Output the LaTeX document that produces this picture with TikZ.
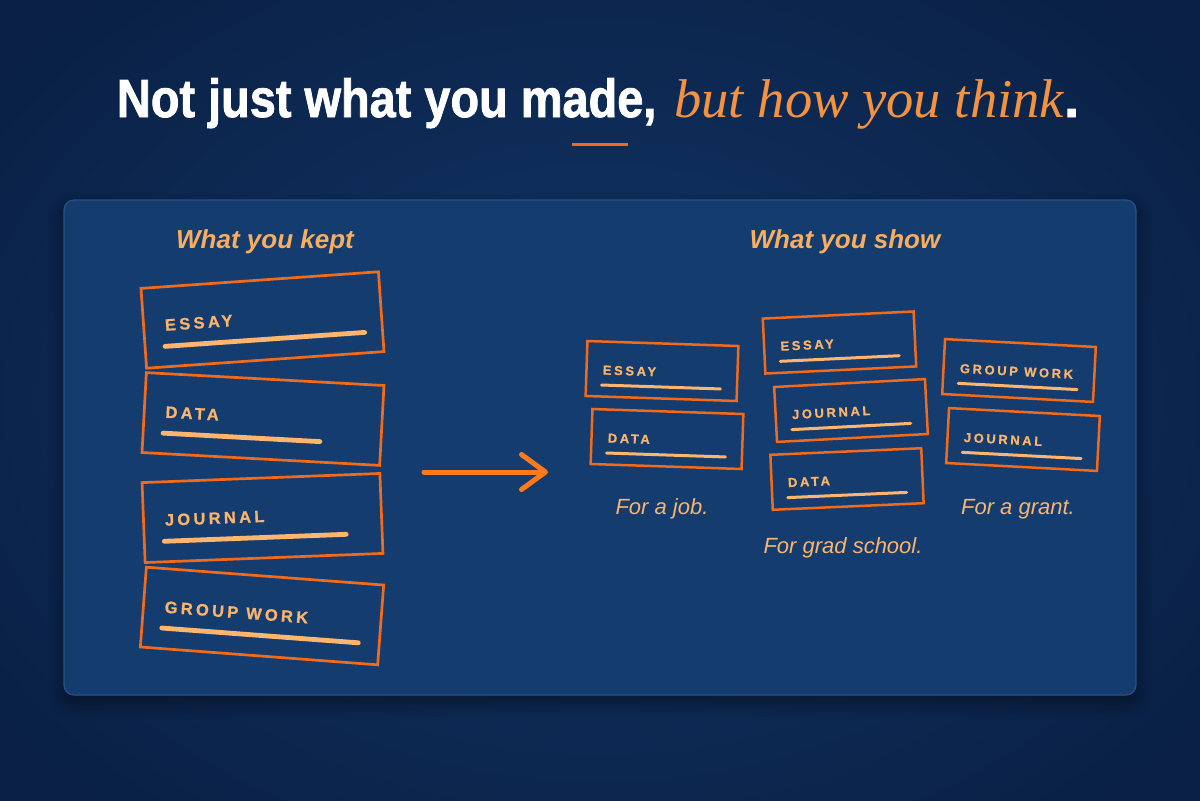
\documentclass[tikz,border=0pt]{standalone}
\usepackage{fontspec}
\usepackage{graphicx}
\usetikzlibrary{arrows.meta,shadows.blur}
\setmainfont{Liberation Sans}
\newfontfamily\titlefont{Liberation Sans}[BoldFeatures={FakeBold=1.6}]
\newfontfamily\serifit{Liberation Serif}
\newfontfamily\cardfont{Liberation Sans}[LetterSpace=20,BoldFeatures={FakeBold=0.7}]
\definecolor{bgin}{HTML}{113667}
\definecolor{bgout}{HTML}{0A2045}
\definecolor{panelfill}{HTML}{153C6F}
\definecolor{panelline}{HTML}{2A5187}
\definecolor{cardorange}{HTML}{F26B1A}
\definecolor{lighttxt}{HTML}{FBB46C}
\definecolor{lineorange}{HTML}{FEB56D}
\definecolor{headorange}{HTML}{F8AE5E}
\definecolor{titleorange}{HTML}{F4923F}
\definecolor{arroworange}{HTML}{FF7A1C}
\tikzset{
  bigcard/.style={draw=cardorange, line width=1.35pt, minimum width=119pt, minimum height=40pt, inner sep=0pt, outer sep=0pt},
  smallcard/.style={draw=cardorange, line width=1.25pt, minimum width=75.5pt, minimum height=27.5pt, inner sep=0pt, outer sep=0pt},
  bigtxt/.style={text=lighttxt, font=\cardfont\bfseries\fontsize{8.25pt}{10pt}\selectfont, inner sep=0pt, anchor=base west},
  smalltxt/.style={text=lighttxt, font=\cardfont\bfseries\fontsize{6.5pt}{8pt}\selectfont, inner sep=0pt, anchor=base west},
  bigline/.style={draw=lineorange, line width=2.4pt, line cap=round},
  smallline/.style={draw=lineorange, line width=1.5pt, line cap=round},
  header/.style={text=headorange, font=\bfseries\itshape\fontsize{13pt}{15pt}\selectfont, inner sep=0pt, anchor=base},
  caption/.style={text=lighttxt, font=\itshape\fontsize{11pt}{13pt}\selectfont, inner sep=0pt, anchor=base},
  bigarrow/.style={draw=arroworange, line width=2.5pt, line cap=round, -{Straight Barb[length=12pt,width=17.5pt,round]}},
}
% big card: name, cx, cy, angle, text, line length
\newcommand{\bigcardat}[6]{%
  \begin{scope}[shift={(#2,#3)}, rotate=#4, transform shape]
    \node[bigcard] (#1) at (0,0) {};
    \node[bigtxt] (#1-t) at (-98,4) {#5};
    \draw[bigline] (-99,19.5) -- (-99+#6,19.5);
  \end{scope}}
\newcommand{\smallcardat}[5]{%
  \begin{scope}[shift={(#2,#3)}, rotate=#4, transform shape]
    \node[smallcard] (#1) at (0,0) {};
    \node[smalltxt] (#1-t) at (-59.5,5.5) {#5};
    \draw[smallline] (-60,16) -- (59,16);
  \end{scope}}
\begin{document}
\begin{tikzpicture}[x=0.5pt,y=-0.5pt]
  \useasboundingbox (0,0) rectangle (1200,800);
  \shade[inner color=bgin, outer color=bgout] (-150,-150) rectangle (1350,950);
  % panel
  \node[draw=panelline, line width=0.6pt, fill=panelfill, rounded corners=5pt,
        minimum width=536pt, minimum height=247.5pt, inner sep=0pt,
        blur shadow={shadow blur steps=12, shadow xshift=0pt, shadow yshift=-4pt, shadow opacity=45, shadow blur radius=8pt}]
        (panel) at (600,447.5) {};
  % title
  \node[inner sep=0pt, anchor=base] (title) at (598,117) {%
    \scalebox{0.875}[1]{\titlefont\bfseries\fontsize{26.8pt}{30pt}\selectfont\color{white}Not just what you made,}%
    \hspace{9pt}%
    {\serifit\itshape\fontsize{27.3pt}{30pt}\selectfont\color{titleorange}but how you think}%
    {\titlefont\bfseries\fontsize{26.8pt}{30pt}\selectfont\color{white}.}};
  \coordinate (ulA) at (572,144);
  \coordinate (ulB) at (628,144);
  \draw[draw=cardorange, line width=1.5pt] (ulA) -- (ulB);
  % headers
  \node[header] (hkept) at (265,248) {What you kept};
  \node[header] (hshow) at (845,248) {What you show};
  % left cards
  \bigcardat{kessay}{262.5}{320}{4}{ESSAY}{200}
  \bigcardat{kdata}{263}{419}{-3.1}{DATA}{157}
  \bigcardat{kjournal}{262.5}{518}{2.2}{JOURNAL}{182}
  \bigcardat{kgroup}{262}{616}{-4.3}{GROUP WORK}{197}
  % arrow
  \coordinate (arrA) at (424,472);
  \coordinate (arrB) at (548,472);
  \draw[bigarrow] (arrA) -- (arrB);
  % right: job
  \smallcardat{jessay}{662}{371}{-1.9}{ESSAY}
  \smallcardat{jdata}{667}{439}{-1.9}{DATA}
  \node[caption] (cjob) at (662,514) {For a job.};
  % grad school
  \smallcardat{gessay}{839.5}{342.5}{2.7}{ESSAY}
  \smallcardat{gjournal}{851}{410.5}{3}{JOURNAL}
  \smallcardat{gdata}{847}{479}{2.5}{DATA}
  \node[caption] (cgrad) at (843,553) {For grad school.};
  % grant
  \smallcardat{rgroup}{1019}{370.5}{-3}{GROUP WORK}
  \smallcardat{rjournal}{1023}{439.5}{-3}{JOURNAL}
  \node[caption] (cgrant) at (1018,514) {For a grant.};
\end{tikzpicture}
\end{document}
